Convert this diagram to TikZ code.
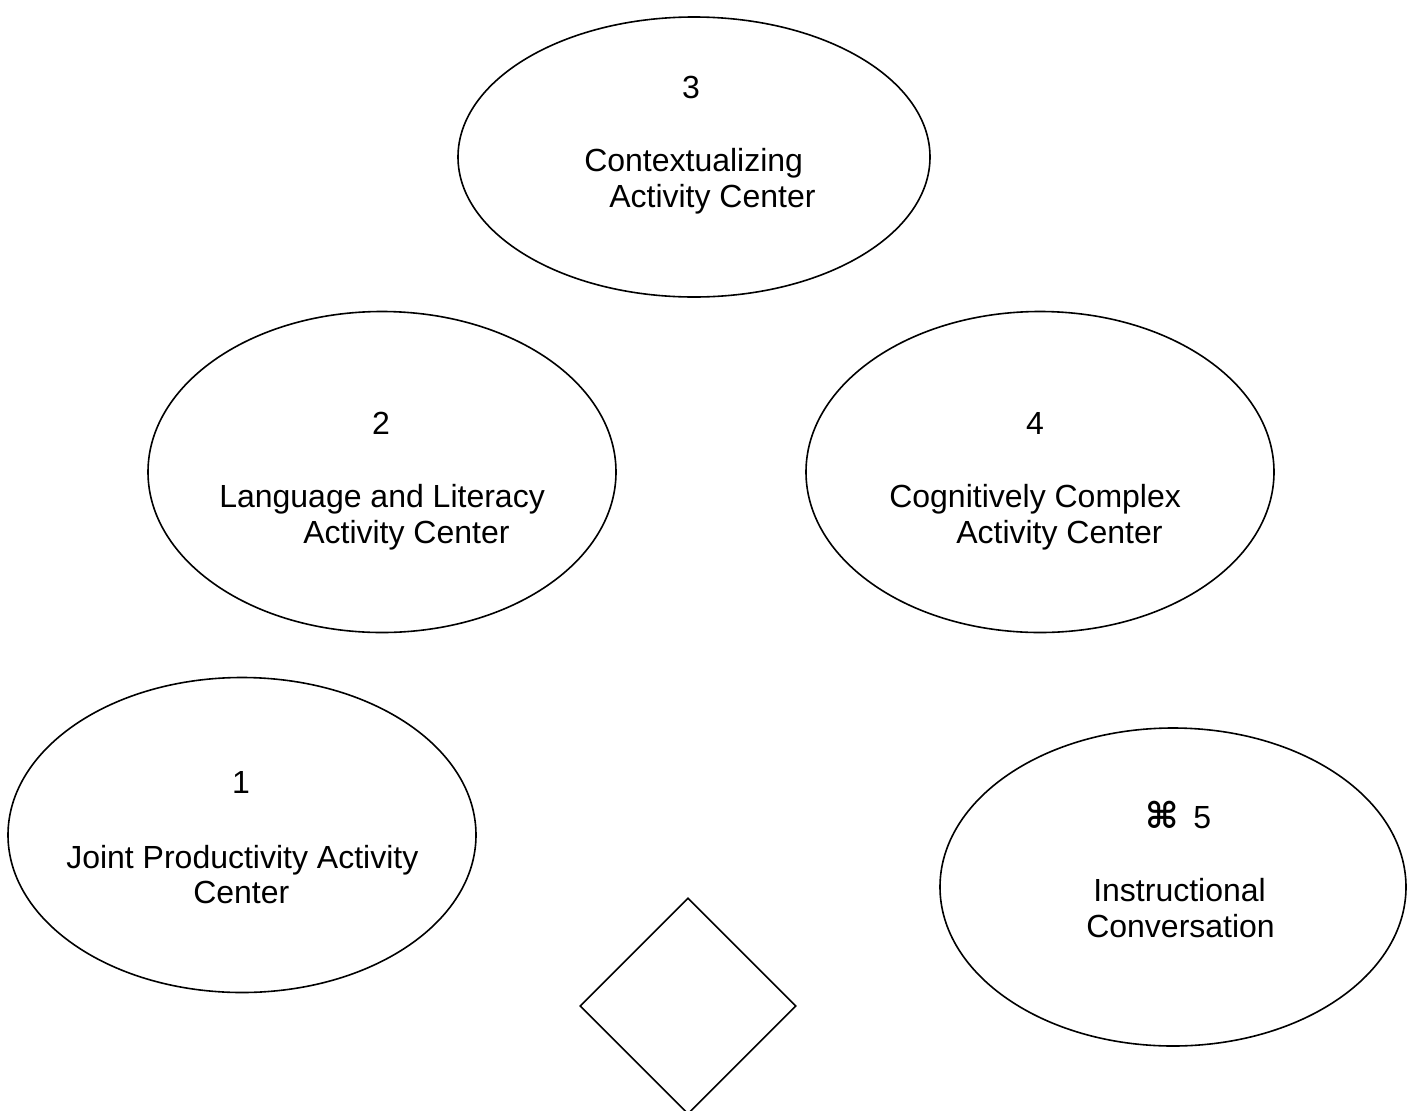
\documentclass[tikz,border=0pt]{standalone}
\usepackage{fontspec}
\setmainfont{Liberation Sans}
\newfontfamily\symfont{DejaVu Sans}
\usetikzlibrary{shapes.geometric}
\begin{document}
\begin{tikzpicture}[x=0.75pt,y=-0.75pt,
  oval/.style={draw=black,line width=1.2pt,ellipse,inner sep=0pt},
  rhomb/.style={draw=black,line width=1.2pt,diamond,inner sep=0pt,minimum width=162pt,minimum height=162pt},
  lbl/.style={inner sep=0pt,anchor=base west,font=\fontsize{24}{28}\selectfont},
  num/.style={inner sep=0pt,anchor=base,font=\fontsize{24}{28}\selectfont}]
\useasboundingbox (0,0) rectangle (1415,1111);
\node[oval,minimum width=354pt,minimum height=210pt] (e3) at (694,157) {};
\node[oval,minimum width=351pt,minimum height=240.75pt] (e2) at (382,472) {};
\node[oval,minimum width=351pt,minimum height=240.75pt] (e4) at (1040,472) {};
\node[oval,minimum width=351pt,minimum height=236.25pt] (e1) at (242,835) {};
\node[oval,minimum width=349.5pt,minimum height=238.5pt] (e5) at (1173,887) {};
\node[rhomb] (d) at (688,1006) {};
\node[num] (t3) at (691,98) {3};
\node[lbl] (t3a) at (584,171) {Contextualizing};
\node[lbl] (t3b) at (609,207) {Activity Center};
\node[num] (t2) at (381,434) {2};
\node[lbl] (t2a) at (219,507) {Language and Literacy};
\node[lbl] (t2b) at (303,543) {Activity Center};
\node[num] (t4) at (1035,434) {4};
\node[lbl] (t4a) at (889,507) {Cognitively Complex};
\node[lbl] (t4b) at (956,543) {Activity Center};
\node[num] (t1) at (241,793) {1};
\node[lbl] (t1a) at (66,868) {Joint Productivity Activity};
\node[lbl] (t1b) at (193,903) {Center};
\node[lbl] (t5) at (1145,828) {{\symfont\bfseries\fontsize{27}{28}\selectfont ⌘}\hspace{11pt}5};
\node[lbl] (t5a) at (1093,901) {Instructional};
\node[lbl] (t5b) at (1086,937) {Conversation};
\end{tikzpicture}
\end{document}
